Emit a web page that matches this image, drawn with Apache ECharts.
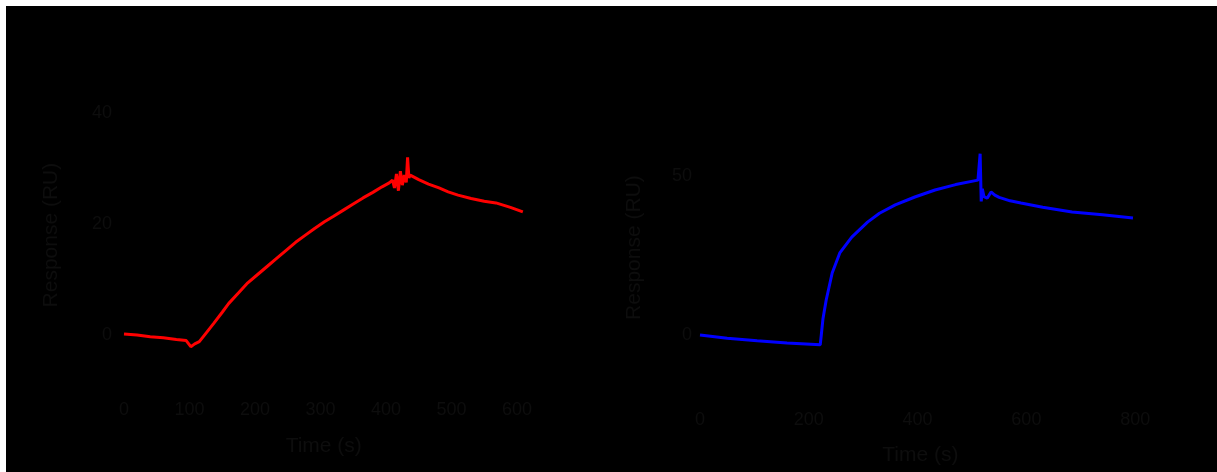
<!DOCTYPE html>
<html>
<head>
<meta charset="utf-8">
<script src="https://cdn.jsdelivr.net/npm/echarts@6/dist/echarts.min.js"></script>
<style>
html,body{margin:0;padding:0;background:#fff;}
#chart{position:absolute;left:6px;top:6px;width:1211px;height:466px;}
</style>
</head>
<body>
<div id="chart"></div>
<script>
// Left panel (red)
const leftTime = [0, 20, 40, 60, 80, 95, 102, 108, 115, 125, 137, 150, 160, 175, 189, 204, 218, 233, 248, 262, 277, 291, 306, 320, 335, 350, 365, 380, 394, 405, 410, 413, 416, 419, 422, 425, 428, 431, 433, 435, 437, 440, 450, 465, 481, 495, 510, 530, 550, 568, 590, 609];
const leftResp = [0.2, 0.0, -0.3, -0.5, -0.8, -1.0, -2.1, -1.6, -1.2, 0.3, 2.1, 4.1, 5.7, 7.6, 9.4, 10.9, 12.3, 13.8, 15.3, 16.7, 18.0, 19.2, 20.4, 21.4, 22.5, 23.6, 24.7, 25.7, 26.7, 27.4, 27.9, 26.5, 29.0, 26.0, 29.5, 27.0, 28.8, 27.5, 32.0, 28.3, 28.8, 28.5, 28.0, 27.2, 26.5, 25.8, 25.2, 24.6, 24.1, 23.8, 23.0, 22.2];
const leftYTicks = [0, 20, 40];

// Right panel (blue)
const rightTime = [0, 50, 105, 160, 221, 223, 226, 232, 243, 257, 279, 308, 330, 359, 395, 432, 470, 511, 513, 515, 517, 519, 522, 528, 535, 542, 550, 570, 590, 630, 684, 740, 796];
const rightResp = [0, -1.0, -1.8, -2.5, -3.1, 0, 5, 11, 19.5, 25.8, 30.8, 35.5, 38.3, 40.9, 43.4, 45.6, 47.3, 48.7, 49, 57, 42, 46, 43.5, 43, 45, 44, 43.3, 42.2, 41.5, 40.2, 38.7, 37.8, 36.8];
const rightYTicks = [0, 50];

const xTitle = 'Time (s)';
const yTitle = 'Response (RU)';

const txt = '#0d0d0d';
const font = 'Liberation Sans, Arial, sans-serif';

function pairs(xs, ys){ return xs.map((x,i)=>[x, ys[i]]); }

const chart = echarts.init(document.getElementById('chart'));
chart.setOption({
  backgroundColor: '#000',
  animation: false,
  grid: [
    {left: 118, top: 107, width: 399.5, height: 244.2},
    {left: 694, top: 138.2, width: 440.6, height: 206.7}
  ],
  xAxis: [
    {gridIndex: 0, type: 'value', min: 0, max: 610, interval: 100,
     axisLine: {show: false}, axisTick: {show: false}, splitLine: {show: false},
     axisLabel: {color: txt, fontSize: 18, fontFamily: font, margin: 44, showMaxLabel: false},
     name: xTitle, nameLocation: 'middle', nameGap: 79,
     nameTextStyle: {color: txt, fontSize: 21, fontFamily: font}},
    {gridIndex: 1, type: 'value', min: 0, max: 810, interval: 200,
     axisLine: {show: false}, axisTick: {show: false}, splitLine: {show: false},
     axisLabel: {color: txt, fontSize: 18, fontFamily: font, margin: 60, showMaxLabel: false},
     name: xTitle, nameLocation: 'middle', nameGap: 94,
     nameTextStyle: {color: txt, fontSize: 21, fontFamily: font}}
  ],
  yAxis: [
    {gridIndex: 0, type: 'value', min: -4, max: 40, interval: 4,
     axisLine: {show: false}, axisTick: {show: false}, splitLine: {show: false},
     axisLabel: {color: txt, fontSize: 18, fontFamily: font, margin: 12,
       formatter: v => leftYTicks.includes(v) ? String(v) : ''},
     name: yTitle, nameLocation: 'middle', nameGap: 62,
     nameTextStyle: {color: txt, fontSize: 21, fontFamily: font}},
    {gridIndex: 1, type: 'value', min: -5, max: 60, interval: 5,
     axisLine: {show: false}, axisTick: {show: false}, splitLine: {show: false},
     axisLabel: {color: txt, fontSize: 18, fontFamily: font, margin: 8,
       formatter: v => rightYTicks.includes(v) ? String(v) : ''},
     name: yTitle, nameLocation: 'middle', nameGap: 55,
     nameTextStyle: {color: txt, fontSize: 21, fontFamily: font}}
  ],
  series: [
    {type: 'line', xAxisIndex: 0, yAxisIndex: 0, data: pairs(leftTime, leftResp),
     showSymbol: false, smooth: false, lineStyle: {color: '#ff0000', width: 3}, itemStyle: {color: '#ff0000'}},
    {type: 'line', xAxisIndex: 1, yAxisIndex: 1, data: pairs(rightTime, rightResp),
     showSymbol: false, smooth: false, lineStyle: {color: '#0000ff', width: 3}, itemStyle: {color: '#0000ff'}}
  ]
});
</script>
</body>
</html>
